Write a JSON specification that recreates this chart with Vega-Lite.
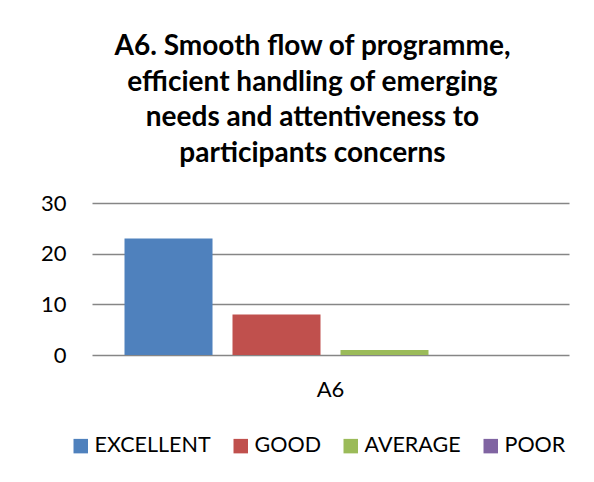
{
  "$schema": "https://vega.github.io/schema/vega-lite/v6.json",
  "width": 477,
  "height": 152,
  "autosize": {"type": "none"},
  "padding": {"left": 92, "top": 203, "right": 25, "bottom": 127},
  "background": "white",
  "title": {
    "text": ["A6. Smooth flow of programme,", "efficient handling of emerging", "needs and attentiveness to", "participants concerns"],
    "font": "Lato",
    "fontSize": 28,
    "fontWeight": "bold",
    "color": "#000000",
    "lineHeight": 35.7,
    "anchor": "middle",
    "dx": -18,
    "offset": 24
  },
  "data": {
    "values": [
      {"question": "A6", "rating": "EXCELLENT", "count": 23},
      {"question": "A6", "rating": "GOOD", "count": 8},
      {"question": "A6", "rating": "AVERAGE", "count": 1},
      {"question": "A6", "rating": "POOR", "count": 0}
    ]
  },
  "mark": {"type": "bar"},
  "encoding": {
    "x": {
      "field": "question",
      "type": "nominal",
      "scale": {"paddingInner": 0, "paddingOuter": 0.0789},
      "axis": {"title": null, "labelAngle": 0, "ticks": false, "domain": false, "labelPadding": 24, "labelFont": "Lato", "labelFontSize": 22, "labelColor": "#000000"}
    },
    "xOffset": {
      "field": "rating",
      "type": "nominal",
      "sort": ["EXCELLENT", "GOOD", "AVERAGE", "POOR"],
      "scale": {"paddingInner": 0.185, "paddingOuter": 0}
    },
    "y": {
      "field": "count",
      "type": "quantitative",
      "scale": {"domain": [0, 30]},
      "axis": {"title": null, "values": [0, 10, 20, 30], "ticks": false, "domain": false, "labelPadding": 26, "labelFont": "Lato", "labelFontSize": 22, "labelColor": "#000000", "gridColor": "#868686", "gridWidth": 1.5, "gridOpacity": 1}
    },
    "color": {
      "field": "rating",
      "type": "nominal",
      "sort": ["EXCELLENT", "GOOD", "AVERAGE", "POOR"],
      "scale": {"domain": ["EXCELLENT", "GOOD", "AVERAGE", "POOR"], "range": ["#4F81BD", "#C0504D", "#9BBB59", "#8064A2"]},
      "legend": {
        "title": null,
        "orient": "none",
        "direction": "horizontal",
        "legendX": -22,
        "legendY": 232,
        "symbolType": "square",
        "symbolSize": 210,
        "symbolStrokeWidth": 0,
        "symbolOpacity": 1,
        "labelFont": "Lato",
        "labelFontSize": 21.5,
        "labelColor": "#000000",
        "labelOffset": 3,
        "columnPadding": 19
      }
    }
  },
  "config": {"view": {"stroke": null}}
}
